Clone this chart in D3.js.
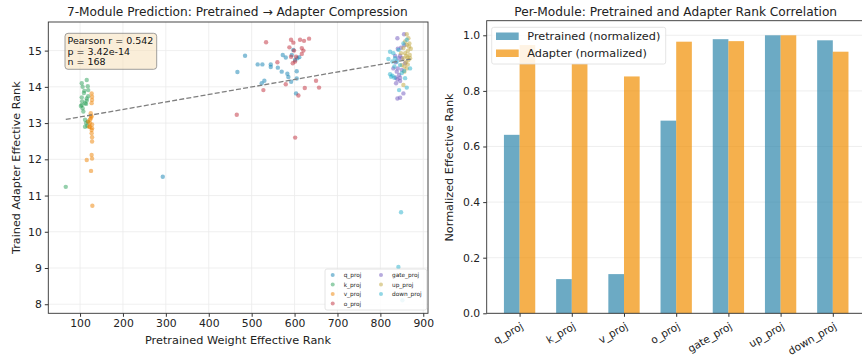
<!DOCTYPE html>
<html>
<head>
<meta charset="utf-8">
<script src="https://cdn.jsdelivr.net/npm/d3@7"></script>
<style>
  body { margin: 0; background: #fff; }
  svg { font-family: "DejaVu Sans", sans-serif; }
</style>
</head>
<body>
<div id="chart"></div>
<script>
// modules and their scatter colours
const modules = ["q_proj", "k_proj", "v_proj", "o_proj", "gate_proj", "up_proj", "down_proj"];
const moduleColors = ["#0F80B1", "#2AA057", "#EE8200", "#C02B39", "#7058BE", "#C0A53C", "#25AFCB"];

// per-layer points [pretrained rank, adapter rank], 24 layers each
const qPoints = [[484.6,14.86],[466.8,14.41],[514,14.62],[525,14.62],[544.5,14.62],[544.5,14.55],[572.5,14.88],[579.5,14.81],
  [561,14.53],[570,14.42],[583.2,14.36],[585.5,14.27],[592,14.14],[605,14.43],[605,14.23],[529.6,14.17],[523.4,14.10],
  [603.5,13.82],[593.5,14.88],[601,14.74],[606.5,14.79],[611,14.82],[292.8,11.52],[597,15.02]];
const kPoints = [[104,14.10],[115.6,14.19],[106,14.0],[118,14.02],[110,13.89],[119,13.91],[104,13.71],[115.6,13.68],
  [111.6,13.55],[104,13.50],[115.6,13.62],[106,13.41],[107.7,13.32],[111.6,13.09],[114,13.0],[111.6,12.90],[117,12.92],
  [102,13.47],[119,13.74],[109,13.83],[114,13.53],[105,13.6],[118,13.04],[66.7,11.24]];
const vPoints = [[127,13.82],[128,13.73],[128,13.64],[127,13.55],[125,13.27],[127,13.18],[123,13.09],[119,13.04],
  [128,12.96],[123,12.90],[128,12.86],[127,12.72],[128,12.61],[128,12.49],[115.6,11.98],[127,12.12],[128,12.02],
  [125.6,11.68],[128.7,10.72],[125,13.13],[123,13.0],[121,12.9],[127,12.81],[125,13.2]];
const oPoints = [[533.6,15.23],[591.8,15.30],[597.2,15.22],[612.8,15.30],[622,15.27],[633.8,15.33],[587.9,15.09],[598.8,15.0],
  [616.8,15.07],[620.6,15.0],[591.8,14.83],[603.5,14.83],[601.2,14.70],[616.8,14.91],[595.8,14.65],[560,14.68],[579.5,14.07],
  [527.3,13.91],[623.8,13.97],[650,14.17],[657,13.98],[608.9,13.76],[465.3,13.23],[601.4,12.60]];
const gatePoints = [[855.2,15.45],[839.7,15.34],[848.2,15.08],[840.6,15.05],[834.3,14.85],[846,14.86],[835.9,14.68],[840.6,14.51],
  [838.2,14.42],[843.6,14.33],[835.9,14.26],[846,14.25],[839.7,14.21],[836.6,14.10],[846,14.16],[853.7,13.82],[839.7,13.68],
  [846,13.70],[849.9,14.79],[857.6,14.65],[830.3,14.51],[849.9,14.47],[842.3,14.79],[856,15.15]];
const upPoints = [[861.5,15.45],[865.3,15.34],[867.6,15.20],[861.5,15.16],[870.9,15.05],[863.9,14.99],[853.7,15.07],[857.6,14.93],
  [868.5,14.88],[863,14.81],[853.7,14.79],[859.2,14.68],[865.3,14.74],[855.9,14.56],[861.5,14.51],[849.9,14.60],[853.7,14.05],
  [863.9,14.62],[869.2,14.79],[848.2,14.93],[857.6,15.25],[866.9,15.11],[855.9,14.42],[860.2,14.86]];
const downPoints = [[822.6,14.97],[818.7,14.77],[830.3,14.93],[834.3,14.79],[828,14.70],[822.6,14.35],[828,14.31],[832.6,14.25],
  [825,14.28],[855.2,14.44],[857.6,14.24],[849.9,14.38],[846,14.60],[861.5,15.30],[853.7,15.20],[842.3,15.02],[838.2,14.70],
  [843.6,13.91],[861.5,13.98],[848.2,10.54],[842,9.03],[851.3,8.11],[869.2,14.51],[832.6,14.56]];
const modulePoints = [qPoints, kPoints, vPoints, oPoints, gatePoints, upPoints, downPoints];

// fitted trend line as shown in the figure
const fitSlope = 0.00207;
const fitIntercept = 12.962;

const statsLines = ["Pearson r = 0.542", "p = 3.42e-14", "n = 168"];
const scatterXTicks = [100, 200, 300, 400, 500, 600, 700, 800, 900];
const scatterYTicks = [8, 9, 10, 11, 12, 13, 14, 15];

// right panel: normalized ranks
const pretrainedNorm = [0.642, 0.123, 0.141, 0.693, 0.986, 1.0, 0.982];
const adapterNorm = [0.965, 0.897, 0.852, 0.977, 0.979, 1.0, 0.941];
const barYTicks = [0.0, 0.2, 0.4, 0.6, 0.8, 1.0];

const W = 862, H = 358;
const svg = d3.select("#chart").append("svg").attr("width", W).attr("height", H);
const axisColor = "#333";

// scale a text's font so it spans the given width
function fitText(sel, w) {
  const len = sel.node().getComputedTextLength();
  const fs = +sel.attr("font-size");
  if (len > 0) sel.attr("font-size", (fs * w / len).toFixed(2));
  return +sel.attr("font-size");
}

// ---------- left: scatter ----------
const L = { x0: 48.3, x1: 428, y0: 22, y1: 313.3 };
const x = d3.scaleLinear().domain([26, 911]).range([L.x0, L.x1]);
const y = d3.scaleLinear().domain([7.75, 15.79]).range([L.y1, L.y0]);

const left = svg.append("g");
left.append("g").selectAll("line").data(scatterXTicks).join("line")
  .attr("x1", d => x(d)).attr("x2", d => x(d)).attr("y1", L.y0).attr("y2", L.y1)
  .attr("stroke", "#ebebeb").attr("stroke-width", 0.8);
left.append("g").selectAll("line").data(scatterYTicks).join("line")
  .attr("y1", d => y(d)).attr("y2", d => y(d)).attr("x1", L.x0).attr("x2", L.x1)
  .attr("stroke", "#ebebeb").attr("stroke-width", 0.8);

modulePoints.forEach((pts, i) => {
  left.append("g").selectAll("circle").data(pts).join("circle")
    .attr("cx", d => x(d[0])).attr("cy", d => y(d[1])).attr("r", 2.2)
    .attr("fill", moduleColors[i]).attr("fill-opacity", 0.5);
});

const all = modulePoints.flat();
const xr = d3.extent(all, d => d[0]);
left.append("line")
  .attr("x1", x(xr[0])).attr("y1", y(fitIntercept + fitSlope * xr[0]))
  .attr("x2", x(xr[1])).attr("y2", y(fitIntercept + fitSlope * xr[1]))
  .attr("stroke", "#7f7f7f").attr("stroke-width", 1.3).attr("stroke-dasharray", "5,2.2");

left.append("g").attr("transform", `translate(0,${L.y1})`)
  .call(d3.axisBottom(x).tickValues(scatterXTicks).tickSize(3.5).tickPadding(3))
  .call(g => g.select(".domain").remove())
  .call(g => g.selectAll("line").attr("stroke", axisColor))
  .call(g => g.selectAll("text").attr("font-size", 10.8).attr("fill", "#222").attr("font-family", "DejaVu Sans"));
left.append("g").attr("transform", `translate(${L.x0},0)`)
  .call(d3.axisLeft(y).tickValues(scatterYTicks).tickSize(3.5).tickPadding(3))
  .call(g => g.select(".domain").remove())
  .call(g => g.selectAll("line").attr("stroke", axisColor))
  .call(g => g.selectAll("text").attr("font-size", 10.8).attr("fill", "#222").attr("font-family", "DejaVu Sans"));
left.append("rect").attr("x", L.x0).attr("y", L.y0).attr("width", L.x1 - L.x0).attr("height", L.y1 - L.y0)
  .attr("fill", "none").attr("stroke", axisColor).attr("stroke-width", 0.9);

left.append("text").attr("x", 237.3).attr("y", 16).attr("text-anchor", "middle")
  .attr("font-size", 12).attr("fill", "#222").text("7-Module Prediction: Pretrained → Adapter Compression")
  .call(s => fitText(s, 341));
left.append("text").attr("x", 238).attr("y", 344).attr("text-anchor", "middle")
  .attr("font-size", 11.2).attr("fill", "#222").text("Pretrained Weight Effective Rank")
  .call(s => fitText(s, 186));
left.append("text").attr("transform", `translate(20,${(L.y0 + L.y1) / 2}) rotate(-90)`).attr("text-anchor", "middle")
  .attr("font-size", 11.2).attr("fill", "#222").text("Trained Adapter Effective Rank");

// stats box
left.append("rect").attr("x", 65).attr("y", 33.3).attr("width", 91.7).attr("height", 36)
  .attr("rx", 3).attr("fill", "#F5DEB3").attr("fill-opacity", 0.5).attr("stroke", "#888").attr("stroke-width", 0.8);
const stats = left.append("g").selectAll("text").data(statsLines).join("text")
  .attr("x", 67.5).attr("y", (d, i) => 44 + i * 10.7).attr("font-size", 10).attr("fill", "#111").text(d => d);
const statsFs = fitText(d3.select(stats.nodes()[0]), 86);
stats.attr("font-size", statsFs);

// module legend
const lg = left.append("g");
lg.append("rect").attr("x", 325).attr("y", 269).attr("width", 101.7).attr("height", 41).attr("rx", 2)
  .attr("fill", "#fff").attr("fill-opacity", 0.85).attr("stroke", "#ddd").attr("stroke-width", 0.8);
modules.forEach((m, i) => {
  const col = i < 4 ? 0 : 1, row = i < 4 ? i : i - 4;
  const cx = col ? 381 : 332.7, cy = 275 + row * 9.5;
  lg.append("circle").attr("cx", cx).attr("cy", cy).attr("r", 2).attr("fill", moduleColors[i]).attr("fill-opacity", 0.5);
  lg.append("text").attr("x", cx + 11).attr("y", cy + 2).attr("font-size", 5.8).attr("fill", "#222").text(m);
});

// ---------- right: grouped bars ----------
const R = { x0: 486.7, x1: 865.7, y0: 20.7, y1: 313.3 };
const bx = d3.scaleLinear().domain([-0.63, 6.63]).range([R.x0, R.x1]);
const by = d3.scaleLinear().domain([0, 1.0525]).range([R.y1, R.y0]);
const bw = 0.3;
const right = svg.append("g");

right.append("g").selectAll("line").data(barYTicks).join("line")
  .attr("x1", R.x0).attr("x2", R.x1).attr("y1", d => by(d)).attr("y2", d => by(d))
  .attr("stroke", "#ebebeb").attr("stroke-width", 0.8);

right.append("g").selectAll("rect").data(pretrainedNorm).join("rect")
  .attr("x", (d, i) => bx(i - bw)).attr("width", bx(bw) - bx(0))
  .attr("y", d => by(d)).attr("height", d => by(0) - by(d))
  .attr("fill", "#2E86AB").attr("fill-opacity", 0.7);
right.append("g").selectAll("rect").data(adapterNorm).join("rect")
  .attr("x", (d, i) => bx(i)).attr("width", bx(bw) - bx(0))
  .attr("y", d => by(d)).attr("height", d => by(0) - by(d))
  .attr("fill", "#F18F01").attr("fill-opacity", 0.7);

right.append("g").attr("transform", `translate(0,${R.y1})`)
  .call(d3.axisBottom(bx).tickValues(d3.range(modules.length)).tickFormat(i => modules[i]).tickSize(3.5).tickPadding(3))
  .call(g => g.select(".domain").remove())
  .call(g => g.selectAll("line").attr("stroke", axisColor))
  .call(g => g.selectAll("text").attr("font-size", 10.5).attr("fill", "#222").attr("font-family", "DejaVu Sans")
    .attr("text-anchor", "end").attr("y", 0).attr("dy", 0).attr("transform", "translate(4,15) rotate(-30)"));
right.append("g").attr("transform", `translate(${R.x0},0)`)
  .call(d3.axisLeft(by).tickValues(barYTicks).tickFormat(d3.format(".1f")).tickSize(3.5).tickPadding(3))
  .call(g => g.select(".domain").remove())
  .call(g => g.selectAll("line").attr("stroke", axisColor))
  .call(g => g.selectAll("text").attr("font-size", 10.8).attr("fill", "#222").attr("font-family", "DejaVu Sans"));
right.append("rect").attr("x", R.x0).attr("y", R.y0).attr("width", R.x1 - R.x0).attr("height", R.y1 - R.y0)
  .attr("fill", "none").attr("stroke", axisColor).attr("stroke-width", 0.9);

right.append("text").attr("x", 675.7).attr("y", 16).attr("text-anchor", "middle")
  .attr("font-size", 12).attr("fill", "#222").text("Per-Module: Pretrained and Adapter Rank Correlation")
  .call(s => fitText(s, 323));
right.append("text").attr("transform", `translate(453,167.5) rotate(-90)`).attr("text-anchor", "middle")
  .attr("font-size", 11.2).attr("fill", "#222").text("Normalized Effective Rank")
  .call(s => fitText(s, 148));

const rl = right.append("g");
rl.append("rect").attr("x", 491.7).attr("y", 27.3).attr("width", 174).attr("height", 36.7).attr("rx", 2)
  .attr("fill", "#fff").attr("fill-opacity", 0.85).attr("stroke", "#ddd").attr("stroke-width", 0.8);
const legendItems = [["Pretrained (normalized)", "#2E86AB"], ["Adapter (normalized)", "#F18F01"]];
const legendTexts = legendItems.map((e, i) => {
  rl.append("rect").attr("x", 496).attr("y", 32.5 + i * 17).attr("width", 22.7).attr("height", 7.5)
    .attr("fill", e[1]).attr("fill-opacity", 0.7);
  return rl.append("text").attr("x", 527.3).attr("y", 40 + i * 17).attr("font-size", 10.8).attr("fill", "#222").text(e[0]);
});
const legFs = fitText(legendTexts[0], 133);
legendTexts[1].attr("font-size", legFs);
</script>
</body>
</html>
